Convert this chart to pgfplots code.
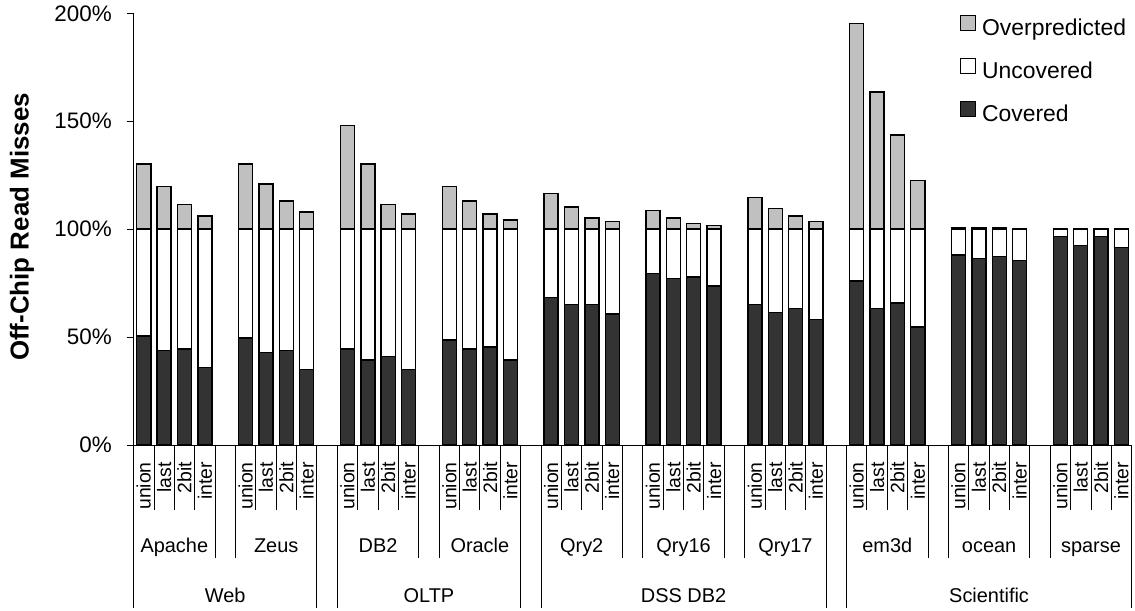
\documentclass[border=0pt]{standalone}
\usepackage{fontspec}
\setmainfont{Liberation Sans}
\usepackage{pgfplots}
\usepackage{pgfplotstable}
\pgfplotsset{compat=1.18}

\definecolor{covered}{HTML}{333333}
\definecolor{overpred}{HTML}{C0C0C0}

% x = category centre (5 slots per benchmark: union, last, 2bit, inter, gap)
\pgfplotstableread{
x     cov   unc   over
0.5   50.5  49.5  30.1
1.5   43.7  56.3  19.7
2.5   44.5  55.5  11.3
3.5   35.8  64.2   6.0
5.5   49.5  50.5  30.1
6.5   42.8  57.2  20.9
7.5   43.7  56.3  13.0
8.5   35.1  64.9   7.9
10.5  44.5  55.5  48.0
11.5  39.4  60.6  30.1
12.5  41.1  58.9  11.3
13.5  35.1  64.9   7.0
15.5  48.7  51.3  19.7
16.5  44.5  55.5  13.0
17.5  45.4  54.6   7.0
18.5  39.4  60.6   4.3
20.5  68.3  31.7  16.5
21.5  65.0  35.0  10.3
22.5  65.0  35.0   5.2
23.5  60.7  39.3   3.5
25.5  79.4  20.6   8.6
26.5  77.1  22.9   5.2
27.5  77.9  22.1   2.6
28.5  73.7  26.3   1.7
30.5  65.0  35.0  14.7
31.5  61.5  38.5   9.6
32.5  63.2  36.8   6.0
33.5  58.1  41.9   3.5
35.5  76.0  24.0  95.2
36.5  63.2  36.8  63.5
37.5  65.8  34.2  43.7
38.5  54.7  45.3  22.4
40.5  88.1  11.9   0.8
41.5  86.4  13.6   0.8
42.5  87.2  12.8   0.8
43.5  85.5  14.5   0.0
45.5  96.7   3.3   0.0
46.5  92.4   7.6   0.0
47.5  96.7   3.3   0.0
48.5  91.5   8.5   0.0
}\misses

\tikzset{
  ylab/.style={anchor=east, xshift=-21.6bp, inner sep=0pt,
               font=\fontsize{22.5}{22.5}\selectfont},
  rowone/.style={yshift=-17bp, rotate=90, anchor=east, inner sep=0pt,
                 font=\fontsize{19.5}{19.5}\selectfont},
  rowtwo/.style={yshift=-107bp, anchor=base, inner sep=0pt,
                 font=\fontsize{20}{20}\selectfont},
  rowthree/.style={yshift=-157bp, anchor=base, inner sep=0pt,
                 font=\fontsize{20}{20}\selectfont},
  sep/.style={line width=0.9bp, black},
}

\begin{document}
\begin{tikzpicture}
\path[use as bounding box] (0,0) rectangle (1135bp,611bp);

\begin{axis}[
  at={(133.6bp,166bp)}, anchor=south west,
  scale only axis, width=998.1bp, height=431.7bp,
  xmin=0, xmax=49, ymin=0, ymax=200,
  ybar stacked, bar width=0.69,
  axis x line*=bottom, axis y line*=left,
  axis line style={line width=1bp},
  xtick=\empty,
  ytick={0,50,100,150,200},
  yticklabels={},
  tick align=outside, major tick length=7bp,
  ytick style={line width=1bp, black},
  clip=false,
  every axis plot/.append style={draw=black, line width=1.4bp},
  reverse legend,
  legend image code/.code={\draw[#1, line width=1.1bp] (0bp,-0.5bp) rectangle (15bp,14.5bp);},
  legend style={draw=none, fill=none, at={(0.828,0.996)}, anchor=north west,
    inner sep=0pt, outer sep=0pt, row sep=17.5bp, column sep=6bp,
    font=\fontsize{23}{23}\selectfont,
    nodes={inner sep=0pt, text height=16bp, text depth=5bp},
    cells={anchor=west}},
]
\addplot[fill=covered] table[x=x, y=cov] {\misses};
\addplot[fill=white] table[x=x, y=unc] {\misses};
\addplot[fill=overpred] table[x=x, y=over] {\misses};
\legend{Covered, Uncovered, Overpredicted}

% percentage labels on the y axis
\pgfplotsinvokeforeach{0,50,100,150,200}{\node[ylab] at (axis cs:0,#1) {#1\%};}

% category separators below the axis
\pgfplotsinvokeforeach{0,...,49}{\draw[sep] (axis cs:#1,0) -- ++(0,-65bp);}
\pgfplotsinvokeforeach{0,4,5,9,10,14,15,19,20,24,25,29,30,34,35,39,40,44,45,49}{\draw[sep] (axis cs:#1,0) -- ++(0,-113bp);}
\pgfplotsinvokeforeach{0,9,10,19,20,34,35,49}{\draw[sep] (axis cs:#1,0) -- ++(0,-163bp);}

% predictor names
\pgfplotsinvokeforeach{0.5,5.5,...,45.5}{\node[rowone] at (axis cs:#1,0) {union};}
\pgfplotsinvokeforeach{1.5,6.5,...,46.5}{\node[rowone] at (axis cs:#1,0) {last};}
\pgfplotsinvokeforeach{2.5,7.5,...,47.5}{\node[rowone] at (axis cs:#1,0) {2bit};}
\pgfplotsinvokeforeach{3.5,8.5,...,48.5}{\node[rowone] at (axis cs:#1,0) {inter};}

% benchmarks
\node[rowtwo] at (axis cs:2,0)  {Apache};
\node[rowtwo] at (axis cs:7,0)  {Zeus};
\node[rowtwo] at (axis cs:12,0) {DB2};
\node[rowtwo] at (axis cs:17,0) {Oracle};
\node[rowtwo] at (axis cs:22,0) {Qry2};
\node[rowtwo] at (axis cs:27,0) {Qry16};
\node[rowtwo] at (axis cs:32,0) {Qry17};
\node[rowtwo] at (axis cs:37,0) {em3d};
\node[rowtwo] at (axis cs:42,0) {ocean};
\node[rowtwo] at (axis cs:47,0) {sparse};

% workload classes
\node[rowthree] at (axis cs:4.5,0)  {Web};
\node[rowthree] at (axis cs:14.5,0) {OLTP};
\node[rowthree] at (axis cs:27,0)   {DSS DB2};
\node[rowthree] at (axis cs:42,0)   {Scientific};
\end{axis}

\node[rotate=90, font=\bfseries\fontsize{26}{26}\selectfont] at (22bp,384bp) {Off-Chip Read Misses};
\end{tikzpicture}
\end{document}
